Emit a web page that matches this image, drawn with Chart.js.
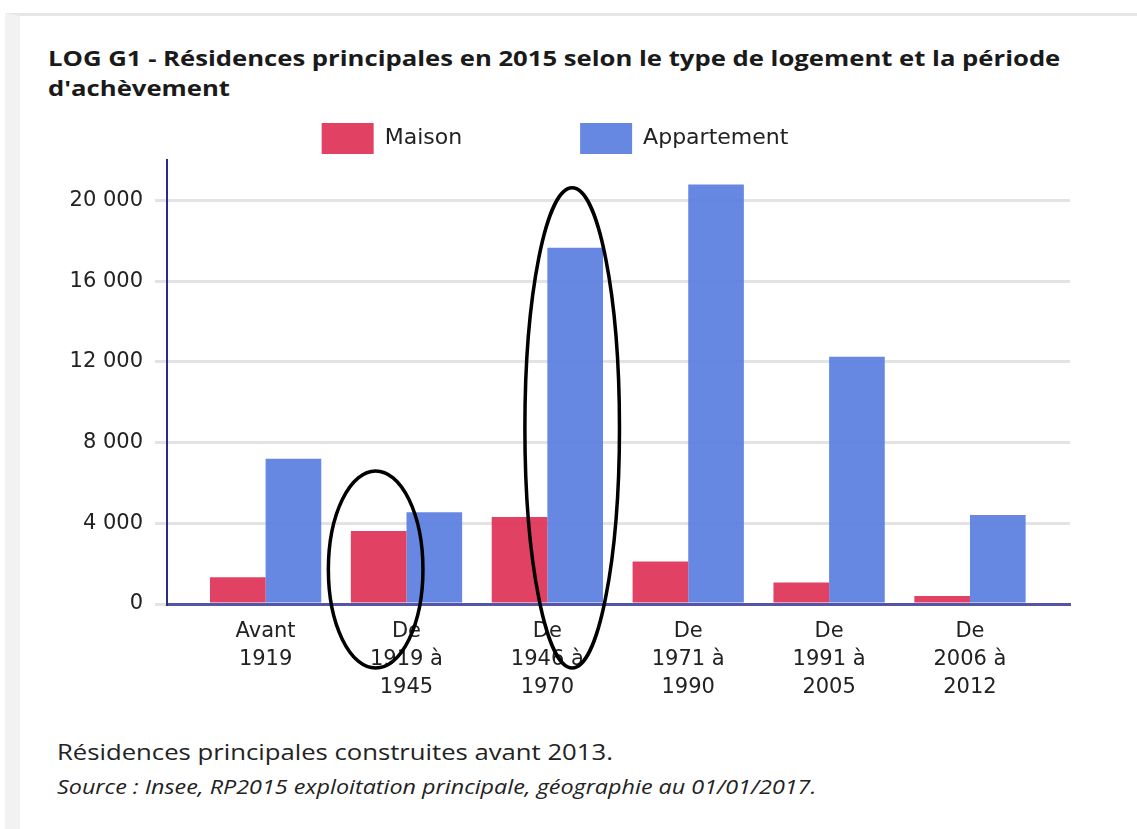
<!DOCTYPE html>
<html lang="fr">
<head>
<meta charset="utf-8">
<script src="https://cdn.jsdelivr.net/npm/chart.js@4.4.0/dist/chart.umd.min.js"></script>
<style>
  html, body { margin: 0; padding: 0; background: #fff; }
  body { width: 1137px; height: 829px; position: relative; overflow: hidden; }
  .cadre { position: absolute; left: 5px; top: 13px; width: 1200px; height: 900px;
           border-left: 15px solid #f2f2f2; border-top: 3px solid #e6e6e6; }
  .titre, .note, .source { position: absolute; white-space: nowrap; transform-origin: 0 0;
           transform: scaleX(1.167); font-family: "Open Sans", sans-serif; color: #1a1a1a; }
  .titre { left: 48px; top: 42px; font-weight: bold; font-size: 22px; line-height: 30px; }
  .note { left: 57px; top: 736px; font-size: 22px; line-height: 30px; color: #222; }
  .source { left: 57px; top: 773px; font-size: 20px; line-height: 28px; font-style: italic; color: #222; }
  #zone { position: absolute; left: 20px; top: 110px; width: 1070px; height: 600px; }
</style>
</head>
<body>
<div class="cadre"></div>
<div class="titre">LOG G1 - Résidences principales en 2015 selon le type de logement et la période<br>d'achèvement</div>
<div id="zone"><canvas id="graphe"></canvas></div>
<div class="note">Résidences principales construites avant 2013.</div>
<div class="source">Source : Insee, RP2015 exploitation principale, géographie au 01/01/2017.</div>

<script>
// periodes d'achevement (libelles sur plusieurs lignes)
const periodes = [
  ['Avant', '1919'],
  ['De', '1919 à', '1945'],
  ['De', '1946 à', '1970'],
  ['De', '1971 à', '1990'],
  ['De', '1991 à', '2005'],
  ['De', '2006 à', '2012']
];
const maison      = [1320, 3620, 4310, 2110, 1070, 400];
const appartement = [7200, 4540, 17650, 20780, 12250, 4410];
const graduations = [0, 4000, 8000, 12000, 16000, 20000];

// barres entourees a la main sur l'original : [serie, periode]
const entourees = [[0, 1], [1, 2]];

const ECART_LEGENDE = 118;

function milliers(v) {
  return String(v).replace(/\B(?=(\d{3})+(?!\d))/g, ' ');
}

// la legende chart.js utilise le meme padding en x et en y, on la recale
const placeLegende = {
  id: 'placeLegende',
  afterLayout(chart) {
    const lg = chart.legend;
    lg.top = 13 - ECART_LEGENDE;
    lg.left += 10;
    lg.right += 10;
  }
};

// ellipses noires autour des barres
const ellipses = {
  id: 'ellipses',
  afterDraw(chart) {
    const ctx = chart.ctx;
    const base = chart.scales.y.getPixelForValue(0);
    ctx.save();
    ctx.strokeStyle = '#000';
    ctx.lineWidth = 3.5;
    entourees.forEach(([s, i]) => {
      const el = chart.getDatasetMeta(s).data[i];
      const haut = el.y - 60, bas = base + 64;
      ctx.beginPath();
      ctx.ellipse(el.x - 3, (haut + bas) / 2, el.width * 0.85, (bas - haut) / 2, 0, 0, Math.PI * 2);
      ctx.stroke();
    });
    ctx.restore();
  }
};

new Chart(document.getElementById('graphe'), {
  type: 'bar',
  data: {
    datasets: [{
      label: 'Maison',
      data: maison.map((v, i) => ({ x: i, y: v })),
      backgroundColor: 'rgba(222,44,81,0.9)',
      borderWidth: 0
    }, {
      label: 'Appartement',
      data: appartement.map((v, i) => ({ x: i, y: v })),
      backgroundColor: 'rgba(86,123,223,0.9)',
      borderWidth: 0
    }]
  },
  options: {
    responsive: true,
    maintainAspectRatio: false,
    animation: false,
    categoryPercentage: 0.79,
    barPercentage: 1,
    layout: { padding: { left: 0, right: 20, top: 0, bottom: 0 } },
    plugins: {
      legend: {
        position: 'top',
        maxHeight: 50,
        labels: {
          boxWidth: 52, boxHeight: 31, padding: ECART_LEGENDE,
          color: '#222', font: { family: 'DejaVu Sans', size: 22 }
        }
      },
      tooltip: { enabled: false }
    },
    scales: {
      x: {
        type: 'linear',
        offset: false,
        min: -0.7, max: 5.71,
        grid: { display: false, drawTicks: false, offset: false },
        border: { color: '#5555a8', width: 3 },
        afterBuildTicks: s => { s.ticks = periodes.map((p, i) => ({ value: i })); },
        afterFit: s => { s.height = 106; },
        ticks: {
          autoSkip: false, maxRotation: 0, padding: 14,
          color: '#222', font: { family: 'DejaVu Sans', size: 21, lineHeight: 1.33 },
          callback: v => periodes[v]
        }
      },
      y: {
        min: 0, max: 22000,
        afterBuildTicks: s => { s.ticks = graduations.map(v => ({ value: v })); },
        afterFit: s => { s.width = 147; },
        grid: { color: '#e3e3e3', lineWidth: 3, tickLength: 12 },
        border: { color: '#2b2b8c', width: 2 },
        ticks: {
          padding: 12, color: '#222',
          font: { family: 'DejaVu Sans', size: 21 },
          callback: v => milliers(v)
        }
      }
    }
  },
  plugins: [placeLegende, ellipses]
});
</script>
</body>
</html>
